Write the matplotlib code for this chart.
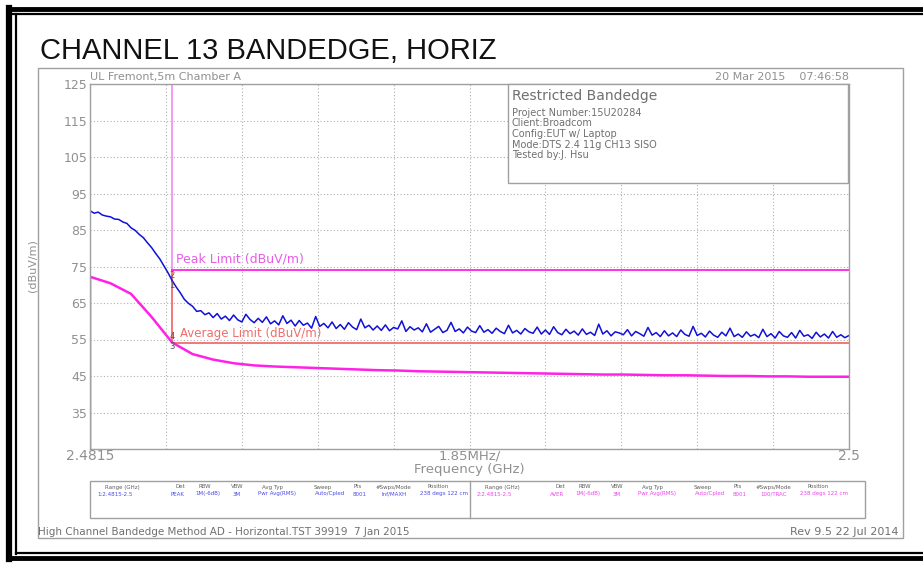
import numpy as np
import matplotlib.pyplot as plt
from matplotlib.patches import Rectangle

# trace data
F_START = 2.4815
F_STOP = 2.5
MARKER_F = 2.4835
PEAK_LIMIT = 74
AVG_LIMIT = 54

# peak trace (blue), 0.1 MHz steps
peak_db = [
    90.3, 89.6, 89.9, 89.1, 88.8, 88.6, 88.0, 87.9, 87.2, 86.8,
    85.6, 84.9, 83.8, 82.9, 81.5, 80.2, 78.6, 77.1, 75.2, 73.3,
    71.2, 69.4, 67.8, 66.0, 64.9, 64.1, 62.7, 62.9, 61.8, 62.3,
    61.0, 62.1, 60.6, 61.4, 60.2, 61.7, 60.4, 59.8, 61.9, 60.5,
    59.6, 60.8, 59.7, 61.2, 59.3, 60.1, 59.0, 61.5, 59.4, 60.3,
    58.7, 60.2, 58.9, 59.5, 58.1, 61.3, 58.6, 59.4, 58.2, 59.8,
    58.0, 59.1, 57.8, 59.6, 58.4, 57.7, 60.6, 58.2, 58.9, 57.6,
    58.7, 57.5, 59.0, 57.4, 58.3, 57.9, 60.1, 57.2, 58.5, 57.6,
    58.2, 57.1, 59.3, 57.0, 57.8, 58.6, 56.9, 57.5, 59.7, 57.2,
    57.9, 56.8, 58.4, 57.3, 56.9, 58.8, 57.0, 57.7, 56.7, 58.1,
    57.2, 56.6, 58.9, 56.8, 57.5, 56.5, 58.0, 57.1, 56.7, 58.4,
    56.5, 57.6, 56.4, 58.5, 56.9, 56.3, 57.8, 56.6, 57.3, 56.2,
    57.9, 56.4, 57.0, 56.1, 59.2, 56.5, 57.4, 56.0, 57.1, 56.8,
    56.3, 57.7, 56.0, 57.2, 56.6, 55.9, 58.3, 56.2, 56.9, 55.8,
    57.4, 56.0, 56.8, 55.8, 57.6, 56.4, 55.9, 58.6, 56.1, 56.7,
    55.7, 57.3, 56.2, 55.6, 57.0, 56.0, 58.1, 55.8, 56.5, 55.6,
    57.1, 55.9, 56.4, 55.5, 57.8, 55.8, 56.6, 55.4, 57.2, 56.0,
    55.6, 56.9, 55.4, 57.5, 55.9, 56.3, 55.3, 57.0, 55.7, 56.5,
    55.4, 57.2, 55.6, 56.3, 55.5, 56.1,
]
peak_f = np.linspace(F_START, F_STOP, len(peak_db))

# average trace (magenta), 0.5 MHz steps
avg_db = [
    72.2, 70.4, 67.5, 61.2, 54.2, 51.0, 49.5, 48.5, 47.9, 47.6,
    47.4, 47.2, 47.0, 46.8, 46.6, 46.5, 46.3, 46.2, 46.1, 46.0,
    45.9, 45.8, 45.7, 45.6, 45.5, 45.4, 45.4, 45.3, 45.2, 45.2,
    45.1, 45.0, 45.0, 44.9, 44.9, 44.8, 44.8, 44.8,
]
avg_f = np.linspace(F_START, F_STOP, len(avg_db))

y_ticks = [25, 35, 45, 55, 65, 75, 85, 95, 105, 115, 125]

GRAY = '#909090'
BLUE = '#1010d8'
MAGENTA = '#ff22e6'
SALMON = '#f26c6c'
W, H = 923, 565


def fx(px):
    return px / W


def fy(py):
    return 1 - py / H


fig = plt.figure(figsize=(W / 100, H / 100), dpi=100)
fig.patch.set_facecolor('white')

# outer black double frame
fig.add_artist(plt.Line2D([fx(8), 1], [fy(9), fy(9)], color='k', lw=3.5))
fig.add_artist(plt.Line2D([fx(8), 1], [fy(14), fy(14)], color='k', lw=1.6))
fig.add_artist(plt.Line2D([fx(9), fx(9)], [fy(8), fy(559)], color='k', lw=4.5))
fig.add_artist(plt.Line2D([fx(16), fx(16)], [fy(14), fy(554)], color='k', lw=1.6))
fig.add_artist(plt.Line2D([fx(8), 1], [fy(558), fy(558)], color='k', lw=3.5))
fig.add_artist(plt.Line2D([fx(16), 1], [fy(553), fy(553)], color='k', lw=1.6))

fig.text(fx(40), fy(51), 'CHANNEL 13 BANDEDGE, HORIZ', fontsize=21,
         family='Liberation Sans', va='center', ha='left', color='#111111')

# gray frame of the scanned plot
fig.add_artist(Rectangle((fx(38), fy(538)), fx(903) - fx(38), fy(68) - fy(538),
                         transform=fig.transFigure, fill=False, ec='#a0a0a0', lw=1))

ax = fig.add_axes([fx(90), fy(449), fx(849) - fx(90), fy(84) - fy(449)])
ax.set_xlim(F_START, F_STOP)
ax.set_ylim(25, 125)
xgrid = np.linspace(F_START, F_STOP, 11)
ax.set_xticks(xgrid)
ax.set_xticklabels([])
ax.set_yticks(y_ticks)
ax.set_yticklabels(['' if v == 25 else str(v) for v in y_ticks])
ax.tick_params(axis='both', length=0, labelsize=9, labelcolor=GRAY, pad=2)
ax.grid(True, color='#b0b0b0', ls=(0, (1, 2)), lw=0.8)
for s in ax.spines.values():
    s.set_color('#a0a0a0')
    s.set_linewidth(1)

# limit lines
ax.plot([MARKER_F, MARKER_F], [PEAK_LIMIT, 125], color='#f590f5', lw=1.3)
ax.plot([MARKER_F, MARKER_F, F_STOP], [PEAK_LIMIT, AVG_LIMIT, AVG_LIMIT], color=SALMON, lw=1.3)
ax.plot([MARKER_F, F_STOP], [PEAK_LIMIT, PEAK_LIMIT], color=MAGENTA, lw=1.3)
ax.text(MARKER_F + 0.0001, PEAK_LIMIT + 1.4, 'Peak Limit (dBuV/m)', color='#e85ce8',
        fontsize=9, va='bottom', ha='left')
ax.text(MARKER_F + 0.0002, AVG_LIMIT + 0.9, 'Average Limit (dBuV/m)', color=SALMON,
        fontsize=8.5, va='bottom', ha='left')

# traces, starting from the bottom of the screen like the analyzer
ax.plot([F_START] + list(avg_f), [25] + avg_db, color=MAGENTA, lw=1.8)
ax.plot([F_START] + list(peak_f), [72] + peak_db, color=BLUE, lw=1.1)

# markers
for yv, lab in [(72.5, '2'), (69.8, '1'), (55.8, '4'), (53.2, '3')]:
    ax.text(MARKER_F, yv, lab, fontsize=6, color='#555555', ha='center', va='center')

# axis annotations
ax.text(0.0, 1.005, 'UL Fremont,5m Chamber A', transform=ax.transAxes, fontsize=8,
        color=GRAY, ha='left', va='bottom')
ax.text(1.0, 1.005, '20 Mar 2015    07:46:58', transform=ax.transAxes, fontsize=8,
        color=GRAY, ha='right', va='bottom')
fig.text(fx(90), fy(456), '2.4815', fontsize=10, color=GRAY, ha='center', va='center')
fig.text(fx(470), fy(456), '1.85MHz/', fontsize=9.5, color=GRAY, ha='center', va='center')
fig.text(fx(849), fy(456), '2.5', fontsize=10, color=GRAY, ha='center', va='center')
fig.text(fx(469), fy(470), 'Frequency (GHz)', fontsize=9.5, color=GRAY, ha='center', va='center')
fig.text(fx(33), fy(266), '(dBuV/m)', fontsize=8, color=GRAY, rotation=90,
         ha='center', va='center')

# info box
bx0, by0, bx1, by1 = 508, 84, 848, 183
fig.add_artist(Rectangle((fx(bx0), fy(by1)), fx(bx1) - fx(bx0), fy(by0) - fy(by1),
                         transform=fig.transFigure, fill=True, fc='white',
                         ec='#a0a0a0', lw=1, zorder=5))
fig.text(fx(512), fy(96), 'Restricted Bandedge', fontsize=10, color='#707070',
         ha='left', va='center', zorder=6)
info_lines = ['Project Number:15U20284', 'Client:Broadcom', 'Config:EUT w/ Laptop',
              'Mode:DTS 2.4 11g CH13 SISO', 'Tested by:J. Hsu']
for i, line in enumerate(info_lines):
    fig.text(fx(512), fy(113 + i * 10.5), line, fontsize=7, color='#707070',
             ha='left', va='center', zorder=6)

# trace settings table
fig.add_artist(Rectangle((fx(90), fy(518)), fx(865) - fx(90), fy(481) - fy(518),
                         transform=fig.transFigure, fill=False, ec='#a0a0a0', lw=1))
fig.add_artist(plt.Line2D([fx(470), fx(470)], [fy(481), fy(518)], color='#a0a0a0', lw=1))
headers = ['Range (GHz)', 'Det', 'RBW', 'VBW', 'Avg Typ', 'Sweep', 'Pts',
           '#Swps/Mode', 'Position']
left_vals = ['1:2.4815-2.5', 'PEAK', '1M(-6dB)', '3M', 'Pwr Avg(RMS)', 'Auto/Cpled',
             '8001', 'Inf/MAXH', '238 degs 122 cm']
right_vals = ['2:2.4815-2.5', 'AVER', '1M(-6dB)', '3M', 'Pwr Avg(RMS)', 'Auto/Cpled',
              '8001', '100/TRAC', '238 degs 122 cm']
head_x = [32, 90, 115, 147, 183, 233, 268, 303, 348]
val_x = [7, 87, 118, 147, 187, 240, 270, 304, 330]
for base, vals, col in [(90, left_vals, '#4a4aee'), (470, right_vals, '#ee44ee')]:
    for i, (h, v) in enumerate(zip(headers, vals)):
        fig.text(fx(base + head_x[i]), fy(487), h, fontsize=4, color='#606060',
                 ha='center', va='center')
        fig.text(fx(base + val_x[i]), fy(494), v, fontsize=4, color=col,
                 ha='left' if i in (0, 8) else 'center', va='center')

fig.text(fx(38), fy(532), 'High Channel Bandedge Method AD - Horizontal.TST 39919  7 Jan 2015',
         fontsize=7.5, color='#707070', ha='left', va='center')
fig.text(fx(898), fy(532), 'Rev 9.5 22 Jul 2014', fontsize=8, color='#707070',
         ha='right', va='center')

fig.savefig('out.png', dpi=100)
